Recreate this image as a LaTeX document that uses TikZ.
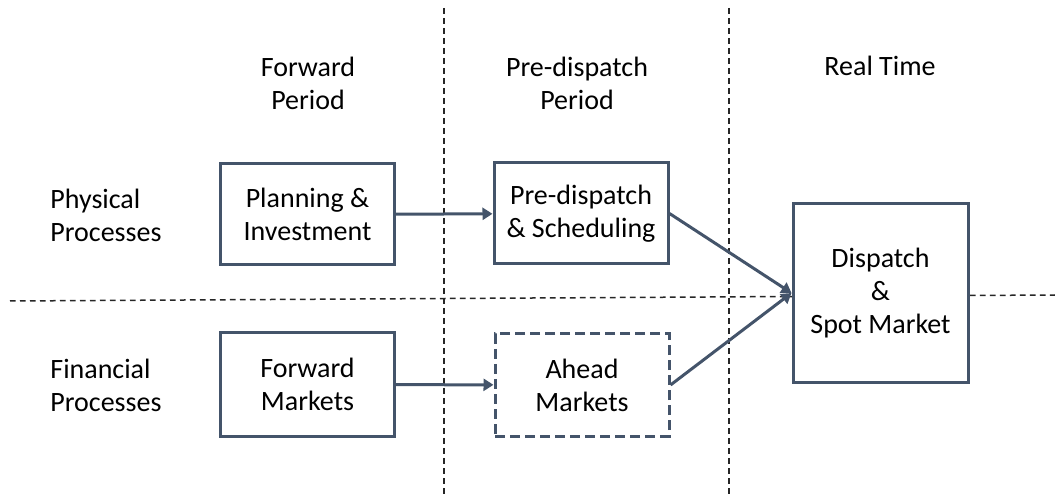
\documentclass[tikz,border=0pt]{standalone}
\usepackage{fontspec}
\setmainfont{Carlito}
\usepackage{tikz}
\usetikzlibrary{arrows.meta}

\definecolor{boxcol}{HTML}{44546A}
\definecolor{divcol}{HTML}{262626}

\tikzset{
	stage/.style={draw=boxcol, line width=1.5pt, fill=white, align=center,
		inner sep=0pt, minimum width=87pt, minimum height=50.5pt},
	flow/.style={draw=boxcol, line width=1.5pt,
		-{Triangle[length=5pt,width=6pt]}},
	divider/.style={draw=divcol, line width=0.75pt, dash pattern=on 2.8pt off 2.2pt},
	heading/.style={align=center, inner sep=0pt},
	rowlabel/.style={align=left, anchor=west, inner sep=0pt}
}

\begin{document}
\begin{tikzpicture}[x=0.5pt, y=-0.5pt, font=\fontsize{14}{16.5}\selectfont]
	\useasboundingbox (0,0) rectangle (1055,497);

	% Dividers
	\coordinate (colA top) at (444,8);
	\coordinate (colA bot) at (444,497);
	\coordinate (colB top) at (729,8);
	\coordinate (colB bot) at (729,497);
	\coordinate (row left) at (10,301);
	\coordinate (row right) at (1055,295);
	\draw[divider] (colA top) -- (colA bot);
	\draw[divider] (colB top) -- (colB bot);
	\draw[divider] (row left) -- (row right);

	% Column headings
	\node[heading] (forward period) at (308,83) {Forward\\Period};
	\node[heading] (predisp period) at (577,83) {Pre-dispatch\\Period};
	\node[heading] (real time) at (880,66) {Real Time};

	% Row labels
	\node[rowlabel] (physical) at (50,215) {Physical\\Processes};
	\node[rowlabel] (financial) at (50,385) {Financial\\Processes};

	% Boxes
	\node[stage] (planning) at (307.5,214.5) {Planning \&\\Investment};
	\node[stage] (scheduling) at (581,213.5) {Pre-dispatch\\\& Scheduling};
	\node[stage, minimum height=51.5pt] (forward) at (307.5,384.5) {Forward\\Markets};
	\node[stage, minimum height=51pt, dash pattern=on 5pt off 2.5pt] (ahead) at (582,385) {Ahead\\Markets};
	\node[stage, minimum width=87.5pt, minimum height=89pt] (dispatch) at (880.5,293) {Dispatch\\\&\\Spot Market};

	% Arrows
	\draw[flow] (planning) -- (scheduling);
	\draw[flow] (forward) -- (ahead);
	\draw[flow] (scheduling.east) -- (dispatch.west);
	\draw[flow] (ahead.east) -- (dispatch.west);
\end{tikzpicture}
\end{document}
